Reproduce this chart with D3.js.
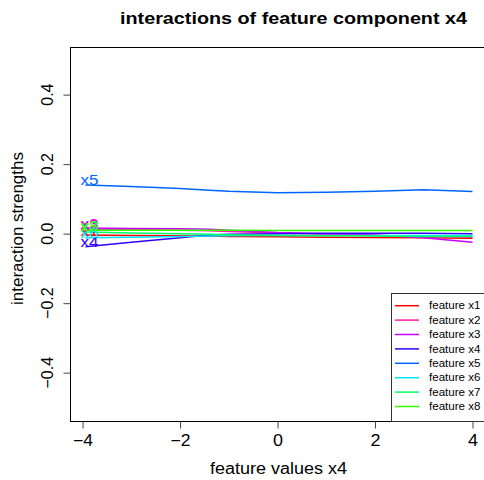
<!DOCTYPE html>
<html>
<head>
<meta charset="utf-8">
<script src="https://cdn.jsdelivr.net/npm/d3@7"></script>
<style>
  html, body { margin: 0; padding: 0; background: #fff; }
  svg { display: block; font-family: "Liberation Sans", Arial, Helvetica, sans-serif; }
</style>
</head>
<body>
<svg id="chart" width="484" height="480"></svg>
<script>
// Grid of feature x4 values at which the interactions are evaluated
const xValues = [-3.94, -3, -2, -1.4, -1, 0, 1, 2, 3, 4];

// Interaction strength of each feature with x4 along the grid
const seriesNames = ["feature x1", "feature x2", "feature x3", "feature x4",
                     "feature x5", "feature x6", "feature x7", "feature x8"];
const shortNames = ["x1", "x2", "x3", "x4", "x5", "x6", "x7", "x8"];
const x1 = [-0.004, -0.005, -0.006, -0.007, -0.008, -0.009, -0.010, -0.011, -0.012, -0.013];
const x2 = [0.012, 0.011, 0.010, 0.008, 0.006, 0.002, -0.002, -0.005, -0.008, -0.010];
const x3 = [0.016, 0.015, 0.014, 0.013, 0.010, 0.003, 0.000, -0.004, -0.012, -0.025];
const x4 = [-0.038, -0.025, -0.012, -0.004, -0.002, 0.000, 0.001, 0.001, 0.001, 0.000];
const x5 = [0.140, 0.136, 0.130, 0.125, 0.122, 0.118, 0.119, 0.122, 0.126, 0.121];
const x6 = [-0.012, -0.010, -0.008, -0.007, -0.006, -0.005, -0.005, -0.005, -0.005, -0.005];
const x7 = [0.005, 0.002, 0.000, -0.002, -0.003, -0.005, -0.006, -0.007, -0.008, -0.008];
const x8 = [0.010, 0.010, 0.010, 0.010, 0.010, 0.009, 0.009, 0.009, 0.009, 0.009];
const seriesValues = [x1, x2, x3, x4, x5, x6, x7, x8];
const seriesColors = ["#FF0000", "#FF1AA3", "#CC00FF", "#3300FF",
                      "#0066FF", "#00E5FF", "#00FF66", "#33FF00"];

// Axis ticks
const xTicks = [-4, -2, 0, 2, 4];
const yTicks = [-0.4, -0.2, 0.0, 0.2, 0.4];

const svg = d3.select("#chart");
const plot = { left: 70, right: 488, top: 47, bottom: 421 };

const xScale = d3.scaleLinear().domain([-4.258, 4.318]).range([plot.left, plot.right]);
const yScale = d3.scaleLinear().domain([-0.539, 0.537]).range([plot.bottom, plot.top]);

const fmtY = v => (v === 0 ? "0.0" : d3.format(".1f")(v)).replace("-", "\u2212");
const fmtX = v => String(v).replace("-", "\u2212");

// Title
svg.append("text")
  .attr("x", 120).attr("y", 24)
  .attr("font-weight", "bold")
  .attr("font-size", 16)
  .attr("textLength", 347).attr("lengthAdjust", "spacingAndGlyphs")
  .text("interactions of feature component x4");

// Series lines
const line = d3.line()
  .x((d, i) => xScale(xValues[i]))
  .y(d => yScale(d));

const gLines = svg.append("g");
seriesValues.forEach((vals, k) => {
  gLines.append("path")
    .datum(vals)
    .attr("fill", "none")
    .attr("stroke", seriesColors[k])
    .attr("stroke-width", 1.5)
    .attr("d", line);
});

// Series labels at the start of each line
seriesValues.forEach((vals, k) => {
  svg.append("text")
    .attr("x", xScale(xValues[0]) - 5)
    .attr("y", yScale(vals[0]) + 0.5)
    .attr("font-size", 15)
    .attr("textLength", 18).attr("lengthAdjust", "spacingAndGlyphs")
    .attr("fill", seriesColors[k])
    .text(shortNames[k]);
});

// Plot frame
svg.append("rect")
  .attr("x", plot.left + 0.5).attr("y", plot.top + 0.5)
  .attr("width", plot.right - plot.left).attr("height", plot.bottom - plot.top)
  .attr("fill", "none").attr("stroke", "#000").attr("stroke-width", 1);

// X axis
const xAxis = d3.axisBottom(xScale).tickValues(xTicks).tickSize(7).tickPadding(8).tickFormat(fmtX);
const gx = svg.append("g").attr("transform", `translate(0,${plot.bottom + 0.5})`).call(xAxis);
gx.select(".domain").attr("d", `M${xScale(-4)},0H${xScale(4)}`).attr("stroke", "#000");
gx.selectAll(".tick line").attr("stroke", "#444");
gx.selectAll(".tick text")
  .attr("font-size", 16).attr("fill", "#000")
  .attr("font-family", "Liberation Sans, Arial, sans-serif")
  .attr("dy", null).attr("y", 24)
  .attr("textLength", function() { return this.textContent.length > 1 ? 20 : 10; })
  .attr("lengthAdjust", "spacingAndGlyphs");

// Y axis: line and ticks from the axis generator, labels rotated like base R
const yAxis = d3.axisLeft(yScale).tickValues(yTicks).tickSize(7).tickFormat("");
const gy = svg.append("g").attr("transform", `translate(${plot.left + 0.5},0)`).call(yAxis);
gy.select(".domain").attr("d", `M0,${yScale(-0.4)}V${yScale(0.4)}`).attr("stroke", "#000");
gy.selectAll(".tick line").attr("stroke", "#444");

svg.append("g").selectAll("text")
  .data(yTicks)
  .join("text")
  .attr("transform", d => `translate(53,${yScale(d)}) rotate(-90)`)
  .attr("text-anchor", "middle")
  .attr("font-size", 16)
  .text(fmtY);

// Axis titles
svg.append("text")
  .attr("x", 210).attr("y", 474)
  .attr("font-size", 16)
  .attr("textLength", 137).attr("lengthAdjust", "spacingAndGlyphs")
  .text("feature values x4");

svg.append("text")
  .attr("transform", "translate(23,305) rotate(-90)")
  .attr("font-size", 16.5)
  .attr("textLength", 153).attr("lengthAdjust", "spacingAndGlyphs")
  .text("interaction strengths");

// Legend
const legend = { left: 391, top: 293, right: 488, bottom: 421 };
svg.append("rect")
  .attr("x", legend.left + 0.5).attr("y", legend.top + 0.5)
  .attr("width", legend.right - legend.left).attr("height", legend.bottom - legend.top)
  .attr("fill", "#fff").attr("stroke", "#333").attr("stroke-width", 1);

const rowStep = 14.4;
seriesNames.forEach((name, k) => {
  const y = legend.top + 12.7 + k * rowStep;
  svg.append("line")
    .attr("x1", 395).attr("x2", 419)
    .attr("y1", y).attr("y2", y)
    .attr("stroke", seriesColors[k]).attr("stroke-width", 1.5);
  svg.append("text")
    .attr("x", 429).attr("y", y + 3.6)
    .attr("font-size", 10.5)
    .attr("textLength", 51.5).attr("lengthAdjust", "spacingAndGlyphs")
    .text(name);
});
</script>
</body>
</html>
